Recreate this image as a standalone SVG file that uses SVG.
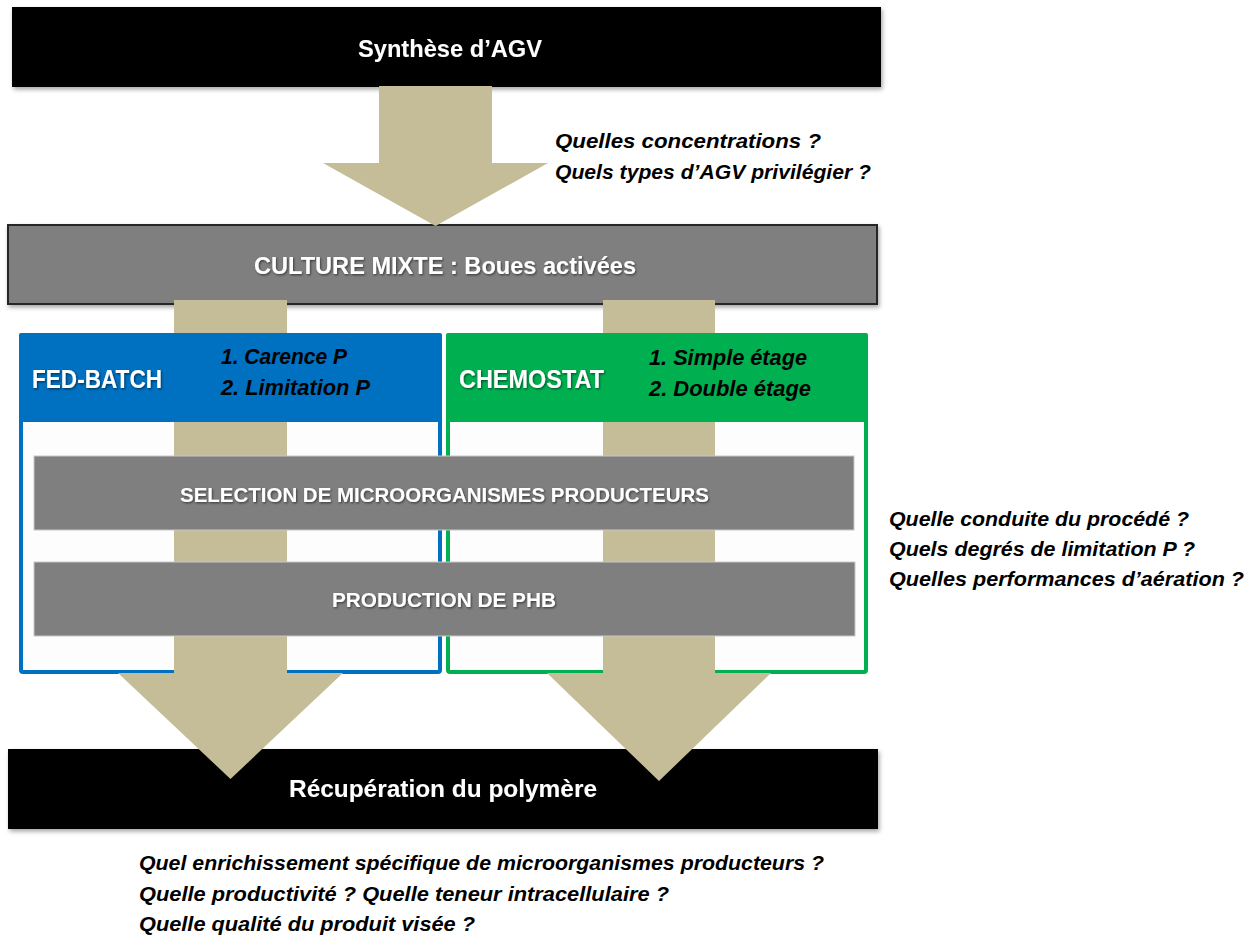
<svg xmlns="http://www.w3.org/2000/svg" width="1253" height="937" viewBox="0 0 1253 937">
<defs>
<filter id="sh" x="-5%" y="-10%" width="110%" height="130%">
<feDropShadow dx="1.5" dy="2.5" stdDeviation="2" flood-color="#000" flood-opacity="0.35"/>
</filter>
<filter id="tsh" x="-5%" y="-20%" width="110%" height="150%">
<feDropShadow dx="1" dy="1.2" stdDeviation="0.8" flood-color="#000" flood-opacity="0.55"/>
</filter>
</defs>
<style>
.blk{fill:#000}
.gry{fill:#7f7f7f}
.arr{fill:#c4bd97}
.wt{font-family:"Liberation Sans",Arial,sans-serif;font-weight:bold;fill:#fff}
.it{font-family:"Liberation Sans",Arial,sans-serif;font-weight:bold;font-style:italic;fill:#000}
.bar{fill:#7f7f7f;stroke:#c8c8c8;stroke-width:1}
</style>
<rect width="1253" height="937" fill="#fff"/>

<g id="synthese">
<rect class="blk" x="12" y="7" width="869" height="80" filter="url(#sh)"/>
<text class="wt" x="450" y="57" font-size="24" text-anchor="middle" textLength="184" lengthAdjust="spacingAndGlyphs" filter="url(#tsh)">Synthèse d’AGV</text>
</g>

<g id="culture">
<rect class="gry" x="8" y="225" width="869" height="79" stroke="#262626" stroke-width="2" filter="url(#sh)"/>
<text class="wt" x="445" y="274" font-size="24" text-anchor="middle" textLength="382" lengthAdjust="spacingAndGlyphs" filter="url(#tsh)">CULTURE MIXTE : Boues activées</text>
</g>

<g id="recuperation">
<rect class="blk" x="8" y="749" width="870" height="80" filter="url(#sh)"/>
<text class="wt" x="443" y="797" font-size="23" text-anchor="middle" textLength="308" lengthAdjust="spacingAndGlyphs" filter="url(#tsh)">Récupération du polymère</text>
</g>

<g id="fedbatch-body">
<rect x="21" y="335" width="419" height="337" rx="2" fill="#fdfdfd" stroke="#0070c0" stroke-width="4"/>
</g>
<g id="chemostat-body">
<rect x="448" y="335" width="418" height="337" rx="2" fill="#fdfdfd" stroke="#00b050" stroke-width="4"/>
</g>

<g id="connectors">
<path class="arr" d="M379,86 H492 V163 H548 L435.5,226 L323,163 H379 Z"/>
<path class="arr" d="M174,300 H287 V336 H174 Z M174,420 H287 V673 H343 L230.5,779 L118,673 H174 Z"/>
<path class="arr" d="M603,300 H715 V336 H603 Z M603,420 H715 V673 H771 L659,781 L547,673 H603 Z"/>
</g>

<g id="fedbatch">
<rect x="19" y="333" width="423" height="89" rx="2" fill="#0070c0"/>
<text class="wt" x="32" y="388" font-size="25" textLength="130" lengthAdjust="spacingAndGlyphs" filter="url(#tsh)">FED-BATCH</text>
<text class="it" x="221" y="364" font-size="22" textLength="126" lengthAdjust="spacingAndGlyphs">1. Carence P</text>
<text class="it" x="221" y="395" font-size="22" textLength="149" lengthAdjust="spacingAndGlyphs">2. Limitation P</text>
</g>

<g id="chemostat">
<rect x="446" y="333" width="422" height="89" rx="2" fill="#00b050"/>
<text class="wt" x="459" y="388" font-size="25" textLength="145" lengthAdjust="spacingAndGlyphs" filter="url(#tsh)">CHEMOSTAT</text>
<text class="it" x="649" y="365" font-size="22" textLength="158" lengthAdjust="spacingAndGlyphs">1. Simple étage</text>
<text class="it" x="649" y="396" font-size="22" textLength="162" lengthAdjust="spacingAndGlyphs">2. Double étage</text>
</g>

<g id="selection">
<rect class="bar" x="34" y="456" width="820" height="74"/>
<text class="wt" x="444.5" y="502" font-size="20" text-anchor="middle" textLength="529" lengthAdjust="spacingAndGlyphs" filter="url(#tsh)">SELECTION DE MICROORGANISMES PRODUCTEURS</text>
</g>

<g id="production">
<rect class="bar" x="34" y="562" width="821" height="74"/>
<text class="wt" x="444" y="607" font-size="20" text-anchor="middle" textLength="224" lengthAdjust="spacingAndGlyphs" filter="url(#tsh)">PRODUCTION DE PHB</text>
</g>

<g id="questions-agv">
<text class="it" x="555" y="148" font-size="20" textLength="266" lengthAdjust="spacingAndGlyphs">Quelles concentrations ?</text>
<text class="it" x="555" y="179" font-size="20" textLength="316" lengthAdjust="spacingAndGlyphs">Quels types d’AGV privilégier ?</text>
</g>

<g id="questions-procede">
<text class="it" x="889" y="526" font-size="20" textLength="300" lengthAdjust="spacingAndGlyphs">Quelle conduite du procédé ?</text>
<text class="it" x="889" y="556" font-size="20" textLength="306" lengthAdjust="spacingAndGlyphs">Quels degrés de limitation P ?</text>
<text class="it" x="889" y="586" font-size="20" textLength="355" lengthAdjust="spacingAndGlyphs">Quelles performances d’aération ?</text>
</g>

<g id="questions-polymere">
<text class="it" x="139" y="870" font-size="20" textLength="685" lengthAdjust="spacingAndGlyphs">Quel enrichissement spécifique de microorganismes producteurs ?</text>
<text class="it" x="139" y="901" font-size="20" textLength="530" lengthAdjust="spacingAndGlyphs">Quelle productivité ? Quelle teneur intracellulaire ?</text>
<text class="it" x="139" y="931" font-size="20" textLength="336" lengthAdjust="spacingAndGlyphs">Quelle qualité du produit visée ?</text>
</g>
</svg>
